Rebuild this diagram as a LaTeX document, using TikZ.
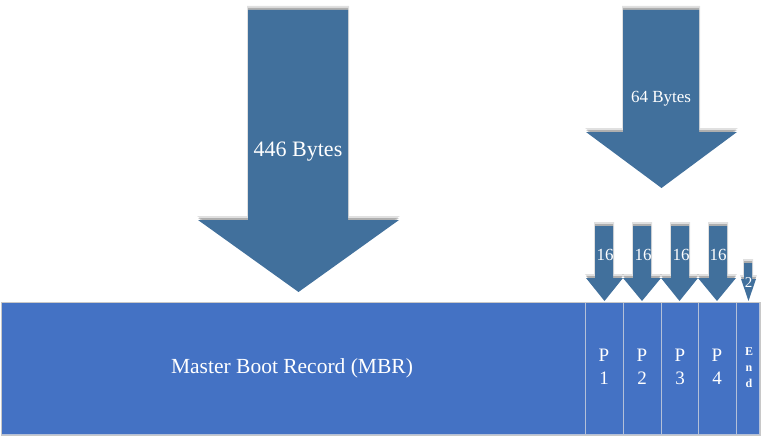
\documentclass[tikz,border=0pt]{standalone}
\usepackage{fontspec}
\setmainfont{Liberation Serif}
\definecolor{arrowblue}{HTML}{41709C}
\definecolor{barblue}{HTML}{4472C4}
\definecolor{cellline}{HTML}{B4C0D8}
\definecolor{outline}{HTML}{C8C8C8}
\begin{document}
\begin{tikzpicture}[x=1pt,y=-1pt,
  cell/.style={draw=cellline,line width=1pt,fill=barblue,text=white,inner sep=0pt,anchor=north west,align=center},
  lbl/.style={text=white,inner sep=0pt},
  arrowshape/.style={fill=arrowblue},
  shadowa/.style={fill=black,opacity=0.12},
  shadowb/.style={fill=black,opacity=0.22}
]
\useasboundingbox (0,0) rectangle (763,436);
% arrow macro: #1 shaft left, #2 shaft right, #3 top, #4 shoulder y, #5 head left, #6 head right, #7 tip y
\newcommand{\myarrow}[7]{%
  \pgfmathsetmacro{\tipx}{(#5+#6)/2}
  \fill[shadowa] (#1-1,#3-4) -- (#2+1,#3-4) -- (#2+1,#4-4) -- (#6+1,#4-4) -- (\tipx,#7-4) -- (#5-1,#4-4) -- (#1-1,#4-4) -- cycle;
  \fill[shadowb] (#1,#3-2) -- (#2,#3-2) -- (#2,#4-2) -- (#6,#4-2) -- (\tipx,#7-2) -- (#5,#4-2) -- (#1,#4-2) -- cycle;
  \fill[arrowshape] (#1,#3) -- (#2,#3) -- (#2,#4) -- (#6,#4) -- (\tipx,#7) -- (#5,#4) -- (#1,#4) -- cycle;
}
% big arrows
\myarrow{248}{348}{10}{220}{198}{399}{292}
\myarrow{623}{699}{10}{132}{586}{737}{188}
% small arrows
\myarrow{595}{613}{226}{278}{586}{623}{301}
\myarrow{633}{651}{226}{278}{623}{661}{301}
\myarrow{671}{689}{226}{278}{661}{698}{301}
\myarrow{709}{727}{226}{278}{698}{736}{301}
\myarrow{744}{752}{263}{279}{741}{756}{301}
% labels
\node[lbl,font=\fontsize{22}{26}\selectfont] (l446) at (298,152) {446 Bytes};
\node[lbl,font=\fontsize{17}{20}\selectfont] (l64) at (661,99) {64 Bytes};
\node[lbl,font=\fontsize{17}{20}\selectfont] (l16a) at (605,255) {16};
\node[lbl,font=\fontsize{17}{20}\selectfont] (l16b) at (643,255) {16};
\node[lbl,font=\fontsize{17}{20}\selectfont] (l16c) at (681,255) {16};
\node[lbl,font=\fontsize{17}{20}\selectfont] (l16d) at (718,255) {16};
\node[lbl,font=\fontsize{15}{17}\selectfont] (l2) at (748.5,283) {2};
% bar
\node[cell,minimum width=584pt,minimum height=132pt] (mbr) at (1,302) {};
\node[cell,minimum width=38pt,minimum height=132pt] (p1) at (585,302) {};
\node[cell,minimum width=38pt,minimum height=132pt] (p2) at (623,302) {};
\node[cell,minimum width=37pt,minimum height=132pt] (p3) at (661,302) {};
\node[cell,minimum width=38pt,minimum height=132pt] (p4) at (698,302) {};
\node[cell,minimum width=23pt,minimum height=132pt] (pend) at (736,302) {};
\draw[outline,line width=1pt] (mbr.north west) rectangle (pend.south east);
\node[lbl,font=\fontsize{21.5}{24}\selectfont] (tmbr) at (292,368) {Master Boot Record (MBR)};
\node[lbl,font=\fontsize{19}{23}\selectfont,align=center] (t1) at (604,367) {P\\1};
\node[lbl,font=\fontsize{19}{23}\selectfont,align=center] (t2) at (642,367) {P\\2};
\node[lbl,font=\fontsize{19}{23}\selectfont,align=center] (t3) at (680,367) {P\\3};
\node[lbl,font=\fontsize{19}{23}\selectfont,align=center] (t4) at (717,367) {P\\4};
\node[lbl,font=\bfseries\fontsize{12}{16}\selectfont,align=center] (tend) at (749,368) {E\\n\\d};
\end{tikzpicture}
\end{document}
